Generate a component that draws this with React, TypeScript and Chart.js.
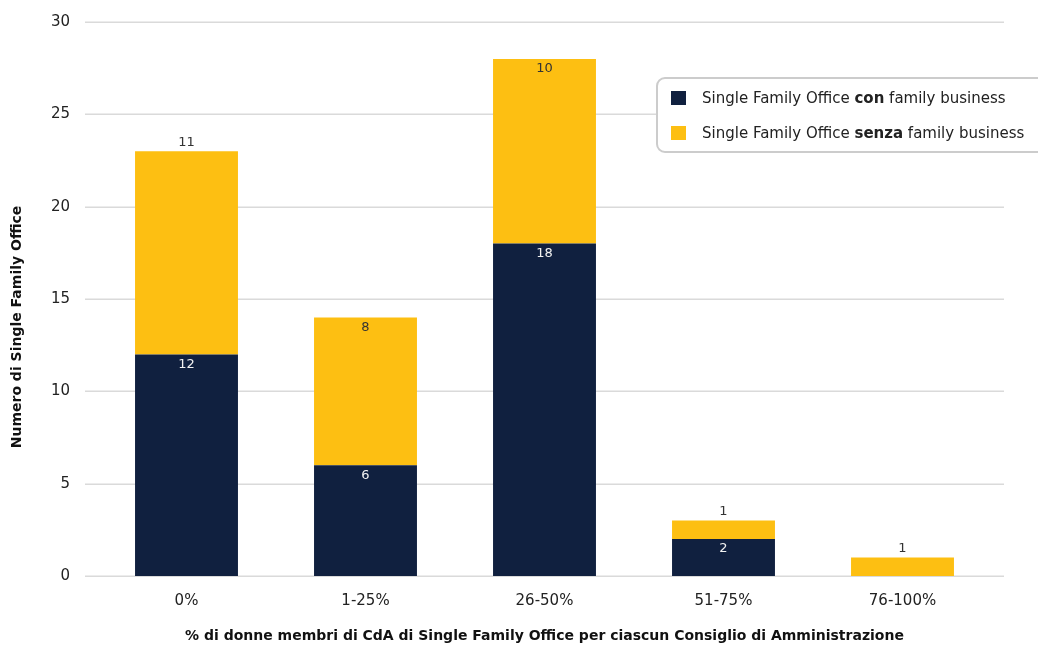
import { useEffect, useRef } from 'react';
import { Chart, registerables } from 'chart.js';

Chart.register(...registerables);

const FONT = '"DejaVu Sans", sans-serif';

// Board-composition buckets (share of women on the board)
const categories = ['0%', '1-25%', '26-50%', '51-75%', '76-100%'];
// Single Family Offices with a family business
const conFamilyBusiness = [12, 6, 18, 2, 0];
// Single Family Offices without a family business
const senzaFamilyBusiness = [11, 8, 10, 1, 1];

const yMin = 0;
const yMax = 30;
const yStep = 5;

const NAVY = '#10203F';
const YELLOW = '#FDBF12';

const xTitle = '% di donne membri di CdA di Single Family Office per ciascun Consiglio di Amministrazione';
const yTitle = 'Numero di Single Family Office';

const legendItems = [
  { color: NAVY, parts: ['Single Family Office ', 'con', ' family business'] },
  { color: YELLOW, parts: ['Single Family Office ', 'senza', ' family business'] },
];

// categories whose upper-segment label sits inside the bar top
const innerTopLabels = new Set(['1-25%', '26-50%']);

const gridPlugin = {
  id: 'extendedGrid',
  beforeDatasetsDraw(chart: any) {
    const { ctx, chartArea, scales } = chart;
    const y = scales.y;
    ctx.save();
    ctx.strokeStyle = '#DADADA';
    ctx.lineWidth = 1.5;
    y.ticks.forEach((t: any) => {
      const py = Math.round(y.getPixelForValue(t.value)) + 0.25;
      ctx.beginPath();
      ctx.moveTo(chartArea.left - 12, py);
      ctx.lineTo(chartArea.right + 12, py);
      ctx.stroke();
    });
    ctx.restore();
  },
};

const valueLabelPlugin = {
  id: 'valueLabels',
  afterDatasetsDraw(chart: any) {
    const { ctx } = chart;
    ctx.save();
    ctx.font = `13px ${FONT}`;
    ctx.textAlign = 'center';
    ctx.textBaseline = 'middle';
    chart.data.datasets.forEach((ds: any, di: number) => {
      const meta = chart.getDatasetMeta(di);
      meta.data.forEach((bar: any, i: number) => {
        const v = ds.data[i];
        if (!v) return;
        const top = Math.min(bar.y, bar.base);
        if (di === 0) {
          ctx.fillStyle = '#F2F2F2';
          ctx.fillText(String(v), bar.x, top + 10);
        } else if (innerTopLabels.has(categories[i])) {
          ctx.fillStyle = '#333333';
          ctx.fillText(String(v), bar.x, top + 10);
        } else {
          ctx.fillStyle = '#333333';
          ctx.fillText(String(v), bar.x, top - 9);
        }
      });
    });
    ctx.restore();
  },
};

const decorPlugin = {
  id: 'decor',
  afterDraw(chart: any) {
    const { ctx, chartArea } = chart;
    ctx.save();

    // axis titles
    ctx.fillStyle = '#111111';
    ctx.font = `bold 14px ${FONT}`;
    ctx.textAlign = 'center';
    ctx.textBaseline = 'middle';
    ctx.fillText(xTitle, (chartArea.left + chartArea.right) / 2, 636);
    ctx.save();
    ctx.translate(17, 327);
    ctx.rotate(-Math.PI / 2);
    ctx.fillText(yTitle, 0, 0);
    ctx.restore();

    // legend box
    const bx = 657;
    const by = 78;
    const bw = 400;
    const bh = 74;
    ctx.beginPath();
    ctx.roundRect(bx, by, bw, bh, 8);
    ctx.fillStyle = '#FFFFFF';
    ctx.fill();
    ctx.strokeStyle = '#CCCCCC';
    ctx.lineWidth = 2;
    ctx.stroke();

    legendItems.forEach((item, i) => {
      const cy = 99 + i * 35;
      ctx.fillStyle = item.color;
      ctx.fillRect(671, cy - 8, 15, 14);
      let x = 702;
      ctx.textAlign = 'left';
      ctx.textBaseline = 'middle';
      ctx.fillStyle = '#222222';
      item.parts.forEach((p, pi) => {
        ctx.font = pi === 1 ? `bold 15px ${FONT}` : `15px ${FONT}`;
        ctx.fillText(p, x, cy);
        x += ctx.measureText(p).width;
      });
    });

    ctx.restore();
  },
};

export default function App() {
  const canvasRef = useRef<HTMLCanvasElement | null>(null);

  useEffect(() => {
    document.body.style.margin = '0';
    const canvas = canvasRef.current;
    if (!canvas) return;
    const chart = new Chart(canvas, {
      type: 'bar',
      data: {
        labels: categories,
        datasets: [
          {
            label: 'Single Family Office con family business',
            data: conFamilyBusiness,
            backgroundColor: NAVY,
            barPercentage: 0.575,
            categoryPercentage: 1,
          },
          {
            label: 'Single Family Office senza family business',
            data: senzaFamilyBusiness,
            backgroundColor: YELLOW,
            barPercentage: 0.575,
            categoryPercentage: 1,
          },
        ],
      },
      options: {
        responsive: false,
        animation: false,
        devicePixelRatio: 1,
        layout: { padding: { top: 22, right: 46, left: 0, bottom: 0 } },
        plugins: {
          legend: { display: false },
          tooltip: { enabled: false },
        },
        scales: {
          x: {
            stacked: true,
            grid: { display: false, drawTicks: false },
            border: { display: false },
            ticks: {
              padding: 16,
              color: '#222222',
              font: { family: FONT, size: 15 },
            },
            afterFit(scale: any) {
              scale.height = 69;
              scale.paddingLeft = 0;
              scale.paddingRight = 0;
            },
          },
          y: {
            stacked: true,
            min: yMin,
            max: yMax,
            grid: { display: false, drawTicks: false },
            border: { display: false },
            ticks: {
              stepSize: yStep,
              padding: 27,
              color: '#222222',
              font: { family: FONT, size: 15 },
            },
            afterFit(scale: any) {
              scale.width = 97;
              scale.paddingTop = 0;
              scale.paddingBottom = 0;
            },
          },
        },
      },
      plugins: [gridPlugin, valueLabelPlugin, decorPlugin],
    });
    return () => chart.destroy();
  }, []);

  return (
    <div style={{ width: 1038, height: 645 }}>
      <canvas ref={canvasRef} width={1038} height={645} />
    </div>
  );
}
